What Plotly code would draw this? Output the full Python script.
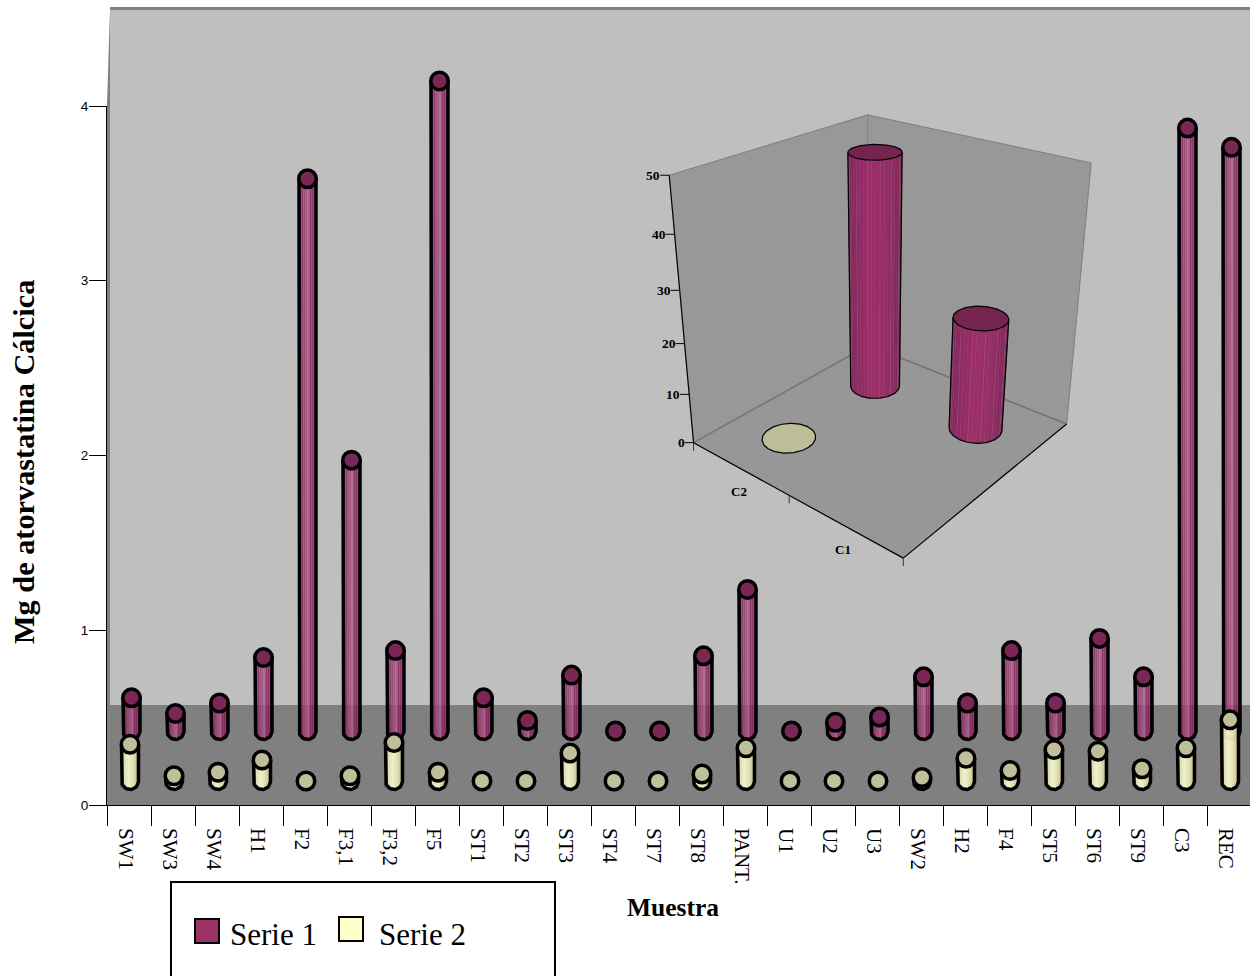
import numpy as np
import plotly.graph_objects as go

# ---- main chart data ----
samples = ["SW1", "SW3", "SW4", "H1", "F2", "F3,1", "F3,2", "F5", "ST1", "ST2", "ST3", "ST4", "ST7",
           "ST8", "PANT.", "U1", "U2", "U3", "SW2", "H2", "F4", "ST5", "ST6", "ST9", "C3", "REC"]
serie_1 = [0.19, 0.10, 0.16, 0.42, 3.16, 1.55, 0.46, 3.72, 0.19, 0.06, 0.32, 0.0, 0.0,
           0.43, 0.81, 0.0, 0.05, 0.08, 0.31, 0.16, 0.46, 0.16, 0.53, 0.31, 3.45, 3.34]
serie_2 = [0.21, 0.03, 0.05, 0.12, 0.0, 0.03, 0.22, 0.05, 0.0, 0.0, 0.16, 0.0, 0.0,
           0.04, 0.19, 0.0, 0.0, 0.0, 0.02, 0.13, 0.06, 0.18, 0.17, 0.07, 0.19, 0.35]
y_ticks = [0, 1, 2, 3, 4]

# ---- inset 3D chart data ----
inset_categories = ["C2", "C1"]
inset_back_row = [47.7, 22.5]  # Serie 1
inset_front_row = [0, None]    # Serie 2
inset_z_ticks = [0, 10, 20, 30, 40, 50]

W, H = 1250, 976
SERIF = "Liberation Serif"
SANS = "Liberation Sans"
px = lambda x: x / W
py = lambda y: 1 - y / H

X0, XEND, STEP = 107, 1250, 44
Y0, Y4 = 805, 106
UNIT = (Y0 - Y4) / 4
x_range = [0, (XEND - X0) / STEP]
x_domain = [px(X0), 1]


def depth_range(base_px):
    """Value range for a full-height axis whose zero sits at base_px."""
    return [-(H - base_px) / UNIT, base_px / UNIT]


# empty traces keep the two visible axis systems on the page
traces = [go.Scatter(x=[None], y=[None], xaxis="x", yaxis="y", hoverinfo="skip", showlegend=False),
          go.Scatter(x=[None], y=[None], xaxis="x2", yaxis="y", hoverinfo="skip", showlegend=False)]

FOOT_ANGLES = np.linspace(0, np.pi, 25)


def cylinders(values, yaxis, dx, strips, cap_colour):
    """Shaded strips, outline and top cap for one depth row of cylinders."""
    cx = np.arange(len(values)) + 0.5 + dx / STEP
    v = np.asarray(values, dtype=float)
    common = dict(xaxis="x3", yaxis=yaxis, hoverinfo="skip", showlegend=False)
    for d, colour in strips:
        drop = np.sqrt(max(8 ** 2 - d ** 2, 0)) / UNIT
        xs, ys = [], []
        for c, t in zip(cx, v):
            xs += [c + d / STEP, c + d / STEP, None]
            ys += [-drop, t, None]
        traces.append(go.Scatter(x=xs, y=ys, mode="lines", line=dict(color=colour, width=2), **common))
    # outline: down one side, round the foot, up the other side
    xl, yl = [], []
    for c, t in zip(cx, v):
        xl += [c - 8.5 / STEP] + list(c - 8.5 * np.cos(FOOT_ANGLES) / STEP) + [c + 8.5 / STEP, None]
        yl += [t] + list(-8.5 * np.sin(FOOT_ANGLES) / UNIT) + [t, None]
    traces.append(go.Scatter(x=xl, y=yl, mode="lines", line=dict(color="black", width=3.5), **common))
    traces.append(go.Scatter(x=cx, y=v, mode="markers",
                             marker=dict(size=17.5, color=cap_colour, line=dict(color="black", width=3.5)), **common))


STRIPS_1 = [(-7, "rgba(122,40,88,0.9)"), (-5, "rgba(134,46,98,0.9)"), (-3, "rgba(150,66,112,0.9)"),
            (-1, "rgba(156,76,120,0.9)"), (1, "rgba(168,96,136,0.9)"), (3, "rgba(134,38,94,0.9)"),
            (5, "rgba(130,38,92,0.9)"), (7, "rgba(118,38,86,0.9)")]
STRIPS_2 = [(-7, "rgba(205,205,160,0.92)"), (-5, "rgba(232,232,184,0.92)"), (-3, "rgba(244,244,200,0.92)"),
            (-1, "rgba(246,246,204,0.92)"), (1, "rgba(240,240,194,0.92)"), (3, "rgba(232,232,184,0.92)"),
            (5, "rgba(216,216,168,0.92)"), (7, "rgba(196,196,152,0.92)")]

cylinders(serie_1, "y3", 2.5, STRIPS_1, "#7a2755")
cylinders(serie_2, "y4", 1.0, STRIPS_2, "#bfbf9a")

# ---- inset: a projective camera fitted to the box corners ----
corner_world = np.array([[0, 0, 0], [1, 0, 0], [1, 1, 0], [0, 1, 0], [0, 0, 1], [1, 1, 1], [0, 1, 1]], float)
corner_screen = np.array([[694, 443], [903, 558], [1067, 424], [868, 345], [669, 175], [1091, 163], [868, 115]], float)
rows = []
rhs = []
for (a, b, c), (sx, sy) in zip(corner_world, corner_screen):
    rows.append([a, b, c, 1, 0, 0, 0, 0, -sx * a, -sx * b, -sx * c])
    rows.append([0, 0, 0, 0, a, b, c, 1, -sy * a, -sy * b, -sy * c])
    rhs += [sx, sy]
cam = np.append(np.linalg.lstsq(np.array(rows), np.array(rhs), rcond=None)[0], 1).reshape(3, 4)


def project(u, v, value):
    u, v, value = np.broadcast_arrays(u, v, value)
    p = np.stack([u, v, value / 50.0, np.ones_like(u, dtype=float)])
    q = cam @ p
    return q[0] / q[2], q[1] / q[2]


inset = dict(xaxis="x5", yaxis="y5", hoverinfo="skip", showlegend=False)


def poly(xs, ys, fill, edge=None, width=1):
    traces.append(go.Scatter(x=list(xs) + [xs[0]], y=list(ys) + [ys[0]], mode="lines", fill="toself", fillcolor=fill,
                             line=dict(color=edge or fill, width=width if edge else 0.4), **inset))


def corners(keys):
    pts = [project(*k) for k in keys]
    return [float(p[0]) for p in pts], [float(p[1]) for p in pts]


poly(*corners([(0, 0, 0), (0, 1, 0), (0, 1, 50), (0, 0, 50)]), "#989898", None)
poly(*corners([(0, 1, 0), (1, 1, 0), (1, 1, 50), (0, 1, 50)]), "#989898", None)
poly(*corners([(0, 0, 0), (1, 0, 0), (1, 1, 0), (0, 1, 0)]), "#979797", None)


def segment(a, b, colour, width=1):
    xs, ys = corners([a, b])
    traces.append(go.Scatter(x=xs, y=ys, mode="lines", line=dict(color=colour, width=width), **inset))


for a, b in [((0, 0, 50), (0, 1, 50)), ((0, 1, 50), (1, 1, 50)), ((1, 1, 50), (1, 1, 0)), ((0, 1, 50), (0, 1, 0))]:
    segment(a, b, "#808080")
for a, b in [((0, 0, 0), (0, 1, 0)), ((0, 1, 0), (1, 1, 0))]:
    segment(a, b, "#757575", 1.5)
for a, b in [((0, 0, 0), (1, 0, 0)), ((1, 0, 0), (1, 1, 0)), ((0, 0, 0), (0, 0, 50))]:
    segment(a, b, "black", 1.2)

# value ticks on the inset's vertical axis
for z in inset_z_ticks:
    sx, sy = project(0.0, 0.0, float(z))
    traces.append(go.Scatter(x=[float(sx) - 9, float(sx)], y=[float(sy), float(sy)], mode="lines",
                             line=dict(color="black", width=1), **inset))
# category boundary ticks on the front edge
for u in [0.0, 0.5, 1.0]:
    sx, sy = project(u, 0.0, 0.0)
    traces.append(go.Scatter(x=[float(sx), float(sx)], y=[float(sy), float(sy) + 8], mode="lines",
                             line=dict(color="#333333", width=1), **inset))

RADIUS = 0.1
theta = np.linspace(0, 2 * np.pi, 121)[:-1]
# facet shades across the visible half of a cylinder, with a paler hairline on every third facet
BODY_SHADES = ["#6c2a50", "#742a54", "#7c2a58", "#86295f", "#8a2a61", "#8e2a63", "#942c65", "#982d66", "#9c2e68",
               "#9c2e68", "#992f67", "#972f66", "#952f66", "#8f2e63", "#8c2d62", "#862b5f", "#802a5c", "#7c2a59",
               "#762a55", "#702a52"]
HAIRLINE = "#a85480"


def inset_cylinder(u, v, value, top_colour):
    cu = u + RADIUS * np.cos(theta)
    cv = v + RADIUS * np.sin(theta)
    bx, by = project(cu, cv, 0.0)
    tx, ty = bx, by
    if value > 0:
        tx, ty = project(cu, cv, float(value))
        il, ir = int(np.argmin(bx)), int(np.argmax(bx))
        # walk the near half of the foot between its screen extremes
        step = 1 if np.max(by[(il + np.arange(1, 60)) % 120]) > np.max(by[(il - np.arange(1, 60)) % 120]) else -1
        path = [il]
        while path[-1] != ir:
            path.append((path[-1] + step) % 120)
        path = np.array(path)
        chunks = np.array_split(np.arange(len(path) - 1), len(BODY_SHADES))
        for n, (chunk, shade) in enumerate(zip(chunks, BODY_SHADES)):
            idx = np.append(path[chunk], path[chunk[-1] + 1])
            xs = np.concatenate([tx[idx], bx[idx][::-1]])
            ys = np.concatenate([ty[idx], by[idx][::-1]])
            poly(xs.tolist(), ys.tolist(), shade, HAIRLINE if n % 3 == 2 else None, 0.4)
        for k in (il, ir):
            traces.append(go.Scatter(x=[float(tx[k]), float(bx[k])], y=[float(ty[k]), float(by[k])], mode="lines",
                                     line=dict(color="black", width=1.2), **inset))
        traces.append(go.Scatter(x=bx[path].tolist(), y=by[path].tolist(), mode="lines",
                                 line=dict(color="black", width=1.2), **inset))
    poly(tx.tolist(), ty.tolist(), top_colour, "black", 1.2)


# back-to-front: the far row first, then the near row
ROW_V = {"back": 0.75, "front": 0.25}
for i in range(2):
    inset_cylinder(0.25 + 0.5 * i, ROW_V["back"], inset_back_row[i], "#74244f")
for i in range(2):
    if inset_front_row[i] is not None:
        inset_cylinder(0.25 + 0.5 * i, ROW_V["front"], inset_front_row[i], "#bdbd98")

# ---- background planes ----
shapes = [
    dict(type="path", xref="paper", yref="paper", layer="below", line=dict(width=0), fillcolor="#808080",
         path=f"M {px(X0)} {py(Y4)} L {px(110)} {py(8)} L {px(110)} {py(Y0)} L {px(X0)} {py(Y0)} Z"),
    dict(type="rect", xref="paper", yref="paper", layer="below", line=dict(width=0), fillcolor="#bfbfbf",
         x0=px(110), x1=1, y0=py(705), y1=py(7)),
    dict(type="rect", xref="paper", yref="paper", layer="below", line=dict(width=0), fillcolor="#808080",
         x0=px(110), x1=1, y0=py(10), y1=py(7)),
    dict(type="rect", xref="paper", yref="paper", layer="below", line=dict(width=0), fillcolor="#808080",
         x0=px(X0), x1=1, y0=py(Y0), y1=py(705)),
    # legend box and swatches
    dict(type="rect", xref="paper", yref="paper", line=dict(color="black", width=2), fillcolor="white",
         x0=px(171), x1=px(555), y0=py(982), y1=py(882)),
    dict(type="rect", xref="paper", yref="paper", line=dict(color="black", width=2), fillcolor="#993366",
         x0=px(195), x1=px(219), y0=py(943), y1=py(919)),
    dict(type="rect", xref="paper", yref="paper", line=dict(color="black", width=2), fillcolor="#ffffcc",
         x0=px(339), x1=px(363), y0=py(941), y1=py(917)),
]


def note(text, x, y, size, bold=False, angle=0, family=SERIF, xanchor="center"):
    return dict(text=f"<b>{text}</b>" if bold else text, x=px(x), y=py(y), xref="paper", yref="paper",
                showarrow=False, xanchor=xanchor, yanchor="middle", textangle=angle,
                font=dict(family=family, size=size, color="black"))


annotations = [
    note("Mg de atorvastatina Cálcica", 24, 462, 30.3, bold=True, angle=-90),
    note("Muestra", 673, 907, 25.5, bold=True),
    note("Serie 1", 228, 934, 31, xanchor="left"),
    note("Serie 2", 377, 934, 31, xanchor="left"),
    note(inset_categories[0], 739, 492, 13, bold=True),
    note(inset_categories[1], 843, 549, 13, bold=True),
]
for z in inset_z_ticks:
    sx, sy = project(0.0, 0.0, float(z))
    annotations.append(note(str(z), float(sx) - 7, float(sy), 13.5, bold=True, xanchor="right"))

hidden = dict(visible=False)
fig = go.Figure(traces)
fig.update_layout(
    width=W, height=H, margin=dict(l=0, r=0, t=0, b=0, pad=0, autoexpand=False), autosize=False,
    paper_bgcolor="white", plot_bgcolor="rgba(0,0,0,0)", showlegend=False, shapes=shapes, annotations=annotations,
    xaxis=dict(domain=x_domain, range=x_range, anchor="y", tickmode="array",
               tickvals=list(range(len(samples))), ticktext=[""] * len(samples), automargin=False,
               ticks="outside", ticklen=20, tickcolor="black", tickwidth=1,
               showline=True, linecolor="black", linewidth=1, showgrid=False, zeroline=False),
    yaxis=dict(domain=[py(Y0), py(Y4)], range=[0, 4], anchor="x", tickmode="array", tickvals=y_ticks,
               ticks="outside", ticklen=17, tickcolor="black", tickwidth=1, automargin=False,
               ticklabelstandoff=-2, tickfont=dict(family=SANS, size=13.5, color="black"),
               showline=True, linecolor="black", linewidth=1, showgrid=False, zeroline=False),
    # second bottom axis carries the rotated sample names
    xaxis2=dict(domain=x_domain, range=x_range, anchor="y", tickmode="array",
                tickvals=[i + 0.5 - 3 / STEP for i in range(len(samples))], ticktext=samples,
                tickangle=90, ticks="", ticklabelstandoff=22, automargin=False,
                tickfont=dict(family=SERIF, size=21, color="black"),
                showline=False, showgrid=False, zeroline=False, side="bottom"),
    xaxis3=dict(domain=x_domain, range=x_range, anchor="y3", **hidden),
    yaxis3=dict(domain=[0, 1], range=depth_range(731), anchor="x3", **hidden),
    yaxis4=dict(domain=[0, 1], range=depth_range(781), anchor="x3", **hidden),
    xaxis5=dict(domain=[0, 1], range=[0, W], anchor="y5", **hidden),
    yaxis5=dict(domain=[0, 1], range=[H, 0], anchor="x5", **hidden),
)
fig.write_html("out.html")
